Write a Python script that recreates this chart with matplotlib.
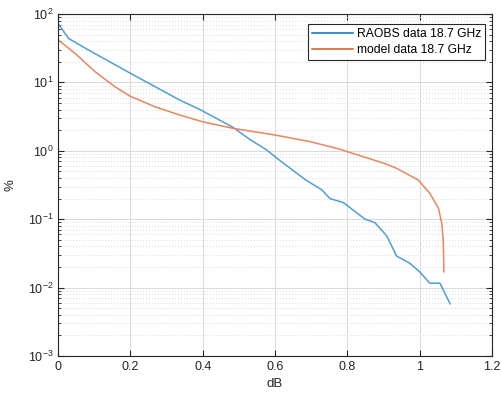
import matplotlib
matplotlib.use('Agg')
import matplotlib.pyplot as plt
from matplotlib.ticker import LogLocator, NullFormatter
import numpy as np

plt.rcParams['font.family'] = ['Liberation Sans', 'DejaVu Sans']
plt.rcParams['mathtext.fontset'] = 'custom'
plt.rcParams['mathtext.rm'] = 'Liberation Sans'

# RAOBS data 18.7 GHz
raobs_db  = [0, 0.029, 0.084, 0.2, 0.337, 0.393, 0.484, 0.53, 0.577, 0.605, 0.683, 0.729,
             0.752, 0.789, 0.849, 0.876, 0.909, 0.936, 0.973, 1.0, 1.028, 1.056, 1.084]
raobs_pct = [73, 44, 29.8, 13.6, 5.5, 4.0, 2.2, 1.47, 1.03, 0.78, 0.38, 0.27,
             0.20, 0.175, 0.1, 0.089, 0.057, 0.029, 0.0226, 0.017, 0.0116, 0.0116, 0.0058]

# model data 18.7 GHz
model_db  = [0, 0, 0.047, 0.102, 0.158, 0.199, 0.268, 0.337, 0.398, 0.484, 0.6, 0.697,
             0.752, 0.78, 0.844, 0.9, 0.936, 0.996, 1.028, 1.052, 1.061, 1.065, 1.067]
model_pct = [100, 42, 26.6, 14.4, 8.6, 6.3, 4.4, 3.33, 2.67, 2.13, 1.70, 1.36,
             1.15, 1.05, 0.82, 0.66, 0.555, 0.374, 0.239, 0.144, 0.087, 0.050, 0.017]

xticks = [0, 0.2, 0.4, 0.6, 0.8, 1.0, 1.2]
xticklabels = ['0', '0.2', '0.4', '0.6', '0.8', '1', '1.2']

axcol = '#262626'

fig = plt.figure(figsize=(5.01, 4.01), dpi=100)
ax = fig.add_axes([0.1158, 0.1122, 0.8663, 0.8529])

ax.plot(raobs_db, raobs_pct, color='#4F9FD6', lw=1.1, label='RAOBS data 18.7 GHz')
ax.plot(model_db, model_pct, color='#E8865C', lw=1.1, label='model data 18.7 GHz')

ax.set_yscale('log')
ax.set_xlim(0, 1.2)
ax.set_ylim(1e-3, 1e2)
ax.set_xticks(xticks)
ax.set_xticklabels(xticklabels)
ax.yaxis.set_major_locator(LogLocator(base=10, numticks=10))
ax.yaxis.set_minor_locator(LogLocator(base=10, subs=np.arange(2, 10), numticks=20))
ax.yaxis.set_minor_formatter(NullFormatter())

ax.grid(True, which='major', color='#dcdcdc', lw=0.8, ls='-')
ax.grid(True, which='minor', axis='y', color='#dcdcdc', lw=0.7, ls=(0, (1, 2)))
ax.set_axisbelow(True)

ax.tick_params(which='both', direction='in', top=True, right=True,
               colors=axcol, labelsize=9)
ax.tick_params(which='major', length=4)
ax.tick_params(which='minor', length=2)
for s in ax.spines.values():
    s.set_color(axcol)
    s.set_linewidth(0.8)

ax.set_xlabel('dB', fontsize=9.5, color=axcol, labelpad=4)
ax.set_ylabel('%', fontsize=9.5, color=axcol, labelpad=8)

leg = ax.legend(loc='upper right', bbox_to_anchor=(0.984, 0.971), borderaxespad=0,
                fontsize=8.7, fancybox=False, framealpha=1, edgecolor=axcol,
                handlelength=3.4, borderpad=0.35, labelspacing=0.3, handletextpad=0.3)
leg.get_frame().set_linewidth(0.8)
leg.get_lines()[0].set_color('#0072BD')
leg.get_lines()[1].set_color('#D95319')

fig.savefig('out.png', dpi=100, facecolor='white')
